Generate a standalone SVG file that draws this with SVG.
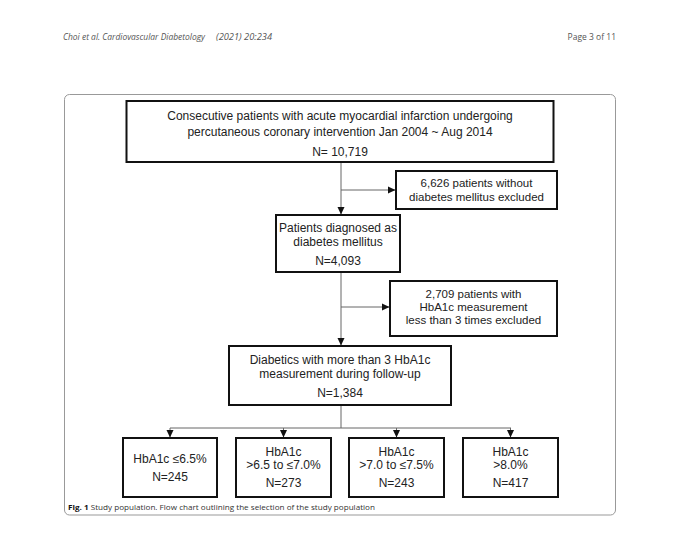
<svg xmlns="http://www.w3.org/2000/svg" width="680" height="536" viewBox="0 0 680 536">
<defs>
<style>
.box{fill:#fff;stroke:#111;stroke-width:2}
.t{font-family:"Liberation Sans",Arial,sans-serif;font-size:12px;fill:#222;text-anchor:middle}
.ts{font-family:"Liberation Sans",Arial,sans-serif;font-size:11.5px;fill:#222;text-anchor:middle}
.tb{font-family:"Liberation Sans",Arial,sans-serif;font-size:12px;fill:#222;text-anchor:middle}
.hdr{font-family:"Open Sans","Noto Sans",sans-serif;font-size:8.5px;fill:#555}
.cap{font-family:"Open Sans","Noto Sans",sans-serif;font-size:7px;fill:#333}
.ln{fill:none;stroke:#666;stroke-width:1}
</style>
<marker id="ah" markerWidth="8" markerHeight="8" refX="7" refY="4" orient="auto" markerUnits="userSpaceOnUse">
<path d="M0,0.5 L7.5,4 L0,7.5 Z" fill="#111"/>
</marker>
</defs>
<rect width="680" height="536" fill="#fff"/>
<g id="header">
<text class="hdr" x="63" y="40" font-style="italic" textLength="142" lengthAdjust="spacingAndGlyphs">Choi et al. Cardiovascular Diabetology</text>
<text class="hdr" x="216" y="40" font-style="italic" textLength="56" lengthAdjust="spacingAndGlyphs">(2021) 20:234</text>
<text class="hdr" x="616" y="40" text-anchor="end">Page 3 of 11</text>
</g>
<rect id="frame" x="64.5" y="94.5" width="551" height="420.5" rx="5" fill="none" stroke="#999" stroke-width="1"/>
<g id="connectors">
<line class="ln" x1="341" y1="162" x2="341" y2="214" marker-end="url(#ah)"/>
<line class="ln" x1="341" y1="190" x2="395" y2="190" marker-end="url(#ah)"/>
<line class="ln" x1="341" y1="272" x2="341" y2="345" marker-end="url(#ah)"/>
<line class="ln" x1="341" y1="307" x2="389" y2="307" marker-end="url(#ah)"/>
<line class="ln" x1="341" y1="405" x2="341" y2="428"/>
<line class="ln" x1="170" y1="428" x2="511" y2="428"/>
<line class="ln" x1="170" y1="428" x2="170" y2="437" marker-end="url(#ah)"/>
<line class="ln" x1="283.5" y1="428" x2="283.5" y2="437" marker-end="url(#ah)"/>
<line class="ln" x1="396.5" y1="428" x2="396.5" y2="437" marker-end="url(#ah)"/>
<line class="ln" x1="510.5" y1="428" x2="510.5" y2="437" marker-end="url(#ah)"/>
</g>
<g id="n1">
<rect class="box" x="126.5" y="101" width="427" height="61"/>
<text class="t" x="340" y="120">Consecutive patients with acute myocardial infarction undergoing</text>
<text class="t" x="340" y="136">percutaneous coronary intervention Jan 2004 ~ Aug 2014</text>
<text class="t" x="340" y="156">N= 10,719</text>
</g>
<g id="n2">
<rect class="box" x="396" y="171" width="161" height="38"/>
<text class="ts" x="476.5" y="187">6,626 patients without</text>
<text class="ts" x="476.5" y="201">diabetes mellitus excluded</text>
</g>
<g id="n3">
<rect class="box" x="276" y="215" width="124" height="57"/>
<text class="t" x="338" y="232">Patients diagnosed as</text>
<text class="t" x="338" y="246">diabetes mellitus</text>
<text class="t" x="338" y="265">N=4,093</text>
</g>
<g id="n4">
<rect class="box" x="390" y="281" width="167" height="55"/>
<text class="ts" x="473.5" y="298">2,709 patients with</text>
<text class="ts" x="473.5" y="311">HbA1c measurement</text>
<text class="ts" x="473.5" y="324">less than 3 times excluded</text>
</g>
<g id="n5">
<rect class="box" x="229" y="346" width="222" height="59"/>
<text class="t" x="340" y="364">Diabetics with more than 3 HbA1c</text>
<text class="t" x="340" y="378">measurement during follow-up</text>
<text class="t" x="340" y="397">N=1,384</text>
</g>
<g id="n6">
<rect class="box" x="123" y="438" width="94" height="59"/>
<text class="tb" x="170" y="463">HbA1c ≤6.5%</text>
<text class="tb" x="170" y="481">N=245</text>
</g>
<g id="n7">
<rect class="box" x="236" y="438" width="95" height="59"/>
<text class="tb" x="283.5" y="456">HbA1c</text>
<text class="tb" x="283.5" y="469">&gt;6.5 to ≤7.0%</text>
<text class="tb" x="283.5" y="487">N=273</text>
</g>
<g id="n8">
<rect class="box" x="349" y="438" width="95" height="59"/>
<text class="tb" x="396.5" y="456">HbA1c</text>
<text class="tb" x="396.5" y="469">&gt;7.0 to ≤7.5%</text>
<text class="tb" x="396.5" y="487">N=243</text>
</g>
<g id="n9">
<rect class="box" x="463" y="438" width="95" height="59"/>
<text class="tb" x="510.5" y="456">HbA1c</text>
<text class="tb" x="510.5" y="469">&gt;8.0%</text>
<text class="tb" x="510.5" y="487">N=417</text>
</g>
<g id="caption">
<text class="cap" x="68" y="510" textLength="307" lengthAdjust="spacingAndGlyphs"><tspan font-weight="bold" fill="#111">Fig. 1</tspan>  Study population. Flow chart outlining the selection of the study population</text>
</g>
</svg>
